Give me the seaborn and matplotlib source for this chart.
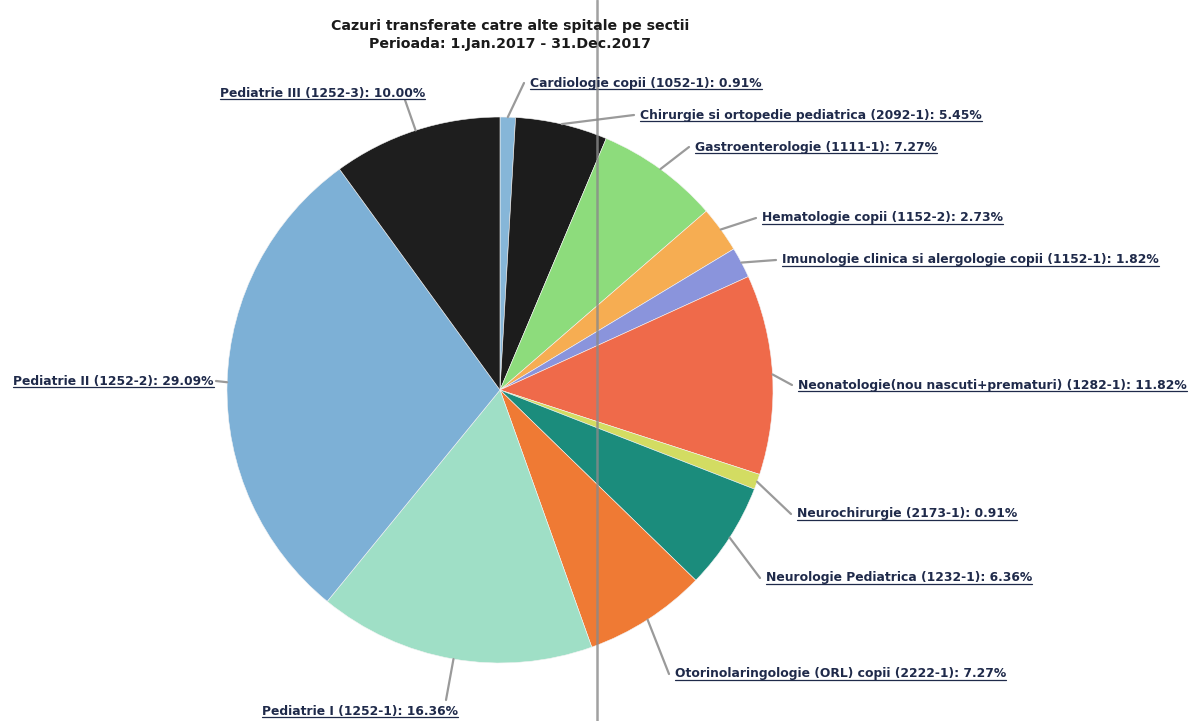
import numpy as np
import matplotlib
matplotlib.use("Agg")
import matplotlib.pyplot as plt
import seaborn as sns
from matplotlib.lines import Line2D

sns.set_theme(style="white")
plt.rcParams['font.family'] = ['DejaVu Sans']

# ---------------- data ----------------
sections = [
    "Cardiologie copii (1052-1)",
    "Chirurgie si ortopedie pediatrica (2092-1)",
    "Gastroenterologie (1111-1)",
    "Hematologie copii (1152-2)",
    "Imunologie clinica si alergologie copii (1152-1)",
    "Neonatologie(nou nascuti+prematuri) (1282-1)",
    "Neurochirurgie (2173-1)",
    "Neurologie Pediatrica (1232-1)",
    "Otorinolaringologie (ORL) copii (2222-1)",
    "Pediatrie I (1252-1)",
    "Pediatrie II (1252-2)",
    "Pediatrie III (1252-3)",
]
percents = [0.91, 5.45, 7.27, 2.73, 1.82, 11.82, 0.91, 6.36, 7.27, 16.36, 29.09, 10.00]
colors = ["#86b6d8", "#1c1c1c", "#8ddc7c", "#f6ad52", "#8a94dc", "#ef6a4a",
          "#d3dc62", "#1b8c7c", "#ef7a34", "#9fdfc6", "#7db0d6", "#1e1e1e"]

title_lines = ["Cazuri transferate catre alte spitale pe sectii",
               "Perioada: 1.Jan.2017 - 31.Dec.2017"]

# label layout in image pixels (left x, centre y from top) and leader end points
label_pos = [(530, 83), (640, 115), (695, 147), (762, 218), (782, 260),
             (798, 385), (797, 514), (766, 578), (675, 674),
             (262, 711), (13, 381), (220, 93)]
leader_end = [(524, 83), (634, 115), (689, 147), (756, 218), (776, 260),
              (792, 385), (791, 514), (760, 578), (669, 674),
              (446, 700), (216, 381), (405, 100)]

W, H = 1200, 721
fig = plt.figure(figsize=(12, 7.21), dpi=100)
ax = fig.add_axes([0, 0, 1, 1])

cx, cy, R = 500, H - 390, 273
wedges, _ = ax.pie(percents, colors=colors, startangle=90, counterclock=False,
                   center=(cx, cy), radius=R, frame=True,
                   wedgeprops=dict(edgecolor="#f4f4f4", linewidth=0.4))
ax.set_xlim(0, W)
ax.set_ylim(0, H)
ax.set_aspect("equal")
ax.axis("off")

texts = []
for w, name, pct, (tx, ty), (lx, ly) in zip(wedges, sections, percents, label_pos, leader_end):
    ang = np.deg2rad((w.theta1 + w.theta2) / 2)
    px, py = cx + R * np.cos(ang), cy + R * np.sin(ang)
    ax.plot([px, lx], [py, H - ly], color="#9a9a9a", lw=1.6, solid_capstyle="round")
    t = ax.text(tx, H - ty, f"{name}: {pct:.2f}%", ha="left", va="center",
                fontsize=8.9, fontweight="bold", color="#1f2a4a")
    texts.append(t)

for i, line in enumerate(title_lines):
    ax.text(510, H - (26 + 18 * i), line, ha="center", va="center",
            fontsize=10.2, fontweight="bold", color="#1a1a1a")

# underline the labels
fig.canvas.draw()
for t in texts:
    bb = t.get_window_extent()
    ax.add_line(Line2D([bb.x0, bb.x1], [bb.y0 + 0.5, bb.y0 + 0.5],
                       color="#1f2a4a", lw=0.9))

# scanner streak
ax.add_line(Line2D([597, 597], [0, H], color="#8a8a8a", lw=1.8, alpha=0.8))

fig.savefig("out.png", dpi=100)
